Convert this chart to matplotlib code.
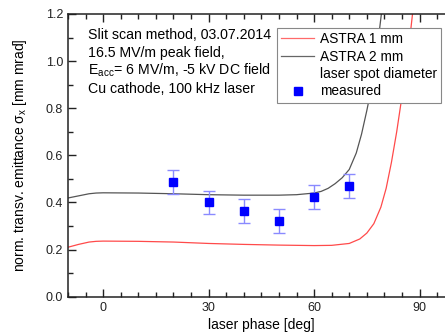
import numpy as np
import matplotlib.pyplot as plt
from matplotlib.lines import Line2D
from matplotlib.ticker import MultipleLocator

plt.rcParams['font.family'] = ['Liberation Sans', 'DejaVu Sans']
plt.rcParams['mathtext.fontset'] = 'custom'
plt.rcParams['mathtext.rm'] = 'Liberation Sans'
plt.rcParams['mathtext.it'] = 'Liberation Sans'

# ASTRA simulation, 1 mm laser spot
astra1_phase = [-10, -7, -4, -2, 0, 10, 20, 30, 40, 50, 60, 65, 70, 73, 75, 77,
                79, 80.5, 82, 83.5, 85, 86.5, 88]
astra1_emit = [0.21, 0.222, 0.232, 0.235, 0.236, 0.235, 0.232, 0.226, 0.222, 0.219,
               0.217, 0.218, 0.226, 0.245, 0.27, 0.31, 0.38, 0.46, 0.57, 0.70,
               0.85, 1.0, 1.2]

# ASTRA simulation, 2 mm laser spot
astra2_phase = [-10, -7, -4, -2, 0, 10, 20, 30, 40, 50, 55, 60, 62, 64, 66, 68,
                70, 72, 73.5, 75, 76.5, 77.5, 78.5, 79.3]
astra2_emit = [0.419, 0.428, 0.437, 0.440, 0.441, 0.440, 0.437, 0.433, 0.431, 0.431,
               0.433, 0.440, 0.447, 0.46, 0.48, 0.505, 0.54, 0.61, 0.69, 0.79,
               0.90, 1.0, 1.12, 1.22]

# measurement
meas_phase = [20, 30, 40, 50, 60, 70]
meas_emit = [0.488, 0.40, 0.364, 0.321, 0.424, 0.471]
meas_err = [0.05, 0.05, 0.05, 0.05, 0.05, 0.05]

fig = plt.figure(figsize=(4.45, 3.35), dpi=100)
ax = fig.add_axes([68 / 445, 38.3 / 335, 386.7 / 445, 282.7 / 335])

ax.plot(astra1_phase, astra1_emit, color='#ff4a4a', lw=0.9)
ax.plot(astra2_phase, astra2_emit, color='#555555', lw=0.9)
ax.errorbar(meas_phase, meas_emit, yerr=meas_err, fmt='s', color='#0000ff',
            ms=6.2, ecolor='#8a8aff', elinewidth=1, capsize=4, capthick=1, zorder=5)

ax.set_xlim(-10, 100)
ax.set_ylim(0, 1.2)
ax.xaxis.set_major_locator(MultipleLocator(30))
ax.xaxis.set_minor_locator(MultipleLocator(5))
ax.yaxis.set_major_locator(MultipleLocator(0.2))
ax.yaxis.set_minor_locator(MultipleLocator(0.1))
ax.yaxis.set_major_formatter(plt.FormatStrFormatter('%.1f'))
ax.tick_params(which='both', direction='in', top=True, right=False,
               labelsize=9, width=1, colors='#222222')
ax.tick_params(which='major', length=6)
ax.tick_params(which='minor', length=3.5)
for s in ax.spines.values():
    s.set_linewidth(1.1)
    s.set_color('#222222')
ax.spines['right'].set_visible(False)

ax.set_xlabel('laser phase [deg]', fontsize=10, labelpad=3)
ax.set_ylabel(r'norm. transv. emittance $\sigma_x$ [mm mrad]', fontsize=10, labelpad=12)

# info text
lines = ['Slit scan method, 03.07.2014',
         '16.5 MV/m peak field,',
         r'E$_{\rm acc}$= 6 MV/m, -5 kV DC field',
         'Cu cathode, 100 kHz laser']
ys = [35, 52.7, 70.7, 89]
for t, y in zip(lines, ys):
    fig.text(88 / 445, 1 - y / 335, t, fontsize=10.2, va='center', ha='left')

handles = [Line2D([], [], color='#ff6a6a', lw=0.9),
           Line2D([], [], color='#666666', lw=0.9),
           Line2D([], [], color='none'),
           Line2D([], [], ls='none', marker='s', ms=6.2, color='#0000ff')]
labels = ['ASTRA 1 mm', 'ASTRA 2 mm', 'laser spot diameter', 'measured']
leg = ax.legend(handles, labels, loc='upper left',
                bbox_to_anchor=(277 / 445, 1 - 28 / 335), bbox_transform=fig.transFigure,
                borderaxespad=0, fontsize=9.9, labelspacing=0.25, handlelength=2.4,
                handletextpad=0.4, borderpad=0.3, fancybox=False, framealpha=1,
                edgecolor='#888888', numpoints=1)
leg.get_frame().set_linewidth(0.8)

fig.savefig('out.png', dpi=100)
